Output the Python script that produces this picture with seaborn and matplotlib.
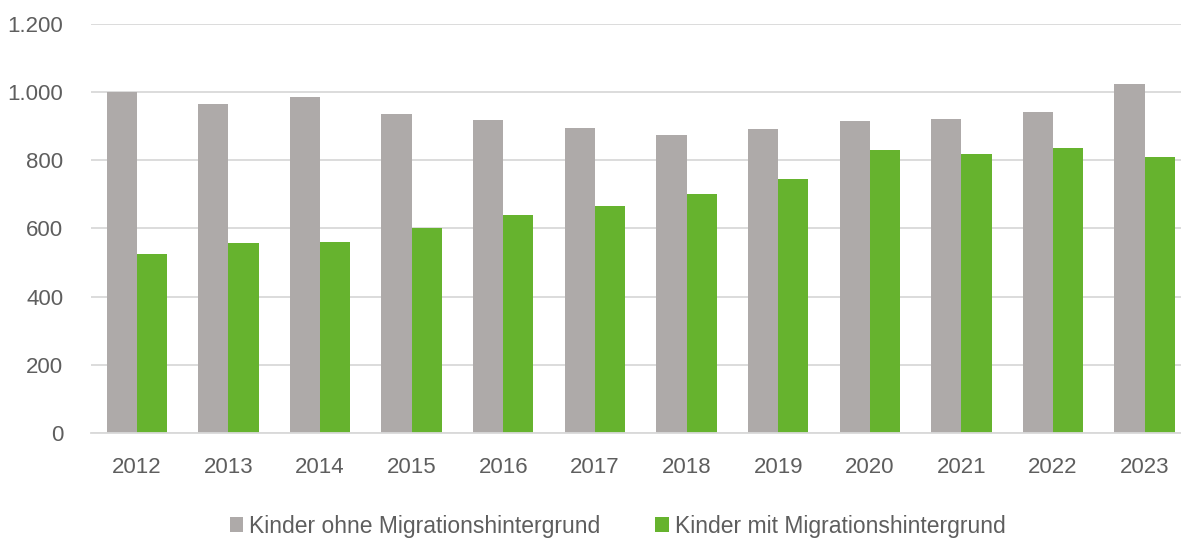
import pandas as pd
import seaborn as sns
import matplotlib.pyplot as plt

# values
years = ['2012', '2013', '2014', '2015', '2016', '2017',
         '2018', '2019', '2020', '2021', '2022', '2023']
ohne_migration = [1000, 964, 986, 934, 917, 895, 874, 892, 914, 920, 942, 1023]
mit_migration = [526, 558, 561, 600, 638, 665, 702, 745, 830, 818, 835, 809]
series_names = ['Kinder ohne Migrationshintergrund', 'Kinder mit Migrationshintergrund']
bar_colors = ['#AEAAA9', '#66B32E']

df = pd.DataFrame({
    'Jahr': years * 2,
    'Anzahl': ohne_migration + mit_migration,
    'Gruppe': [series_names[0]] * len(years) + [series_names[1]] * len(years),
})

sns.set_theme(style='white')
plt.rcParams['font.family'] = ['Liberation Sans', 'DejaVu Sans']
text_color = '#5E5E5E'

fig = plt.figure(figsize=(11.81, 5.40), dpi=100)
ax = fig.add_axes([0.077, 0.198, 0.931, 0.758])

sns.barplot(data=df, x='Jahr', y='Anzahl', hue='Gruppe', palette=bar_colors,
            width=0.66, gap=0, saturation=1, linewidth=0, ax=ax, legend=True)

ax.set_ylim(0, 1200)
ax.set_yticks(range(0, 1201, 200))
ax.set_yticklabels(['0', '200', '400', '600', '800', '1.000', '1.200'])
ax.yaxis.grid(True, color='#D9D9D9', linewidth=1.3)
ax.set_axisbelow(True)
ax.set_xlabel('')
ax.set_ylabel('')

for side in ['left', 'right', 'top']:
    ax.spines[side].set_visible(False)
ax.spines['bottom'].set_color('#D9D9D9')
ax.spines['bottom'].set_linewidth(1.3)

ax.tick_params(axis='y', length=0, pad=20, labelsize=16, labelcolor=text_color)
ax.tick_params(axis='x', length=0, pad=17, labelsize=16, labelcolor=text_color)

handles, labels = ax.get_legend_handles_labels()
ax.get_legend().remove()
fig.legend(handles, labels, loc='lower center', bbox_to_anchor=(0.523, -0.034),
           ncol=2, frameon=False, fontsize=16.5, labelcolor=text_color,
           handlelength=0.6, handleheight=0.6, handletextpad=0.25,
           columnspacing=2.4)

fig.savefig('out.png', dpi=100)
